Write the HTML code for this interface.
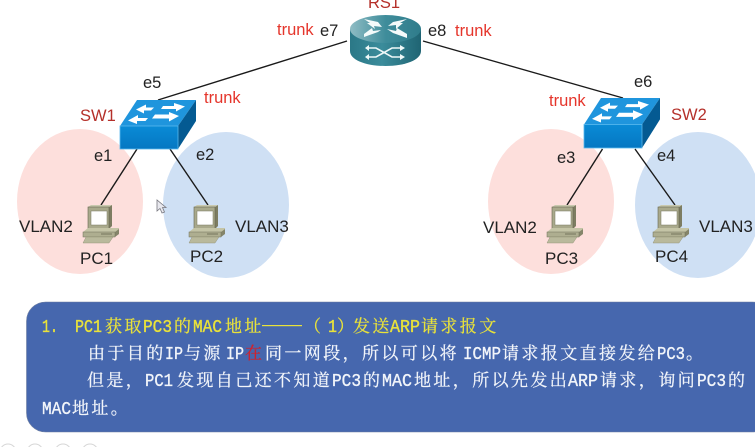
<!DOCTYPE html>
<html>
<head>
<meta charset="utf-8">
<style>
html,body{margin:0;padding:0;background:#fff;width:755px;height:447px;overflow:hidden}
svg{display:block;filter:blur(.35px)}
.l{font-family:"Liberation Sans",Arial,sans-serif;font-size:16.5px;fill:#222}
.r{fill:#e5352b}
.d{fill:#b5302a}
.c{font-family:"Noto Serif CJK SC","Noto Sans CJK SC",serif;font-size:17px;letter-spacing:2.4px;stroke-width:.25px}
.m{font-family:"Liberation Mono",monospace;font-size:18px;stroke-width:.35px}
.w{fill:#f2f5fa;stroke:#f2f5fa}
.y{fill:#e9e23a;stroke:#e9e23a}
</style>
</head>
<body>
<svg width="755" height="447" viewBox="0 0 755 447" xmlns="http://www.w3.org/2000/svg">
<defs>
<linearGradient id="rt" x1="0" y1="0" x2="1" y2="0"><stop offset="0" stop-color="#8fbcc4"/><stop offset=".5" stop-color="#3f8d9b"/><stop offset="1" stop-color="#2f7c8b"/></linearGradient>
<linearGradient id="rb" x1="0" y1="0" x2="1" y2="0"><stop offset="0" stop-color="#2b7887"/><stop offset=".45" stop-color="#3b8c9b"/><stop offset="1" stop-color="#1f6473"/></linearGradient>
<linearGradient id="sf" x1="0" y1="0" x2="0" y2="1"><stop offset="0" stop-color="#0a8bd6"/><stop offset="1" stop-color="#0577c2"/></linearGradient>
<g id="pc">
<polygon points="5,3 8,1 29,1 26,3" fill="#c9c9ae"/>
<polygon points="26,3 29,1 29,22 26,25" fill="#7d7d62"/>
<rect x="5" y="3" width="21" height="22" fill="#a9a98c" stroke="#66664e" stroke-width=".6"/>
<rect x="8" y="7" width="16" height="14" fill="#fff" stroke="#77775f" stroke-width=".5"/>
<polygon points="0,28 5,24 36,24 36,27 32,28" fill="#c4c4a6"/>
<polygon points="32,28 36,25 36,30 32,33" fill="#85856a"/>
<rect x="0" y="28" width="32" height="5" fill="#aeae90" stroke="#71715a" stroke-width=".5"/>
<line x1="18" y1="30" x2="29" y2="30" stroke="#666650" stroke-width=".8"/>
<polygon points="3,33 30,33 26,39 0,39" fill="#b9b99c" stroke="#8a8a70" stroke-width=".4"/>
</g>
<g id="sw">
<polygon points="0,26 17,0 76,0 58,26" fill="#1f95dd"/>
<polygon points="58,26 76,0 76,21 58,49" fill="#045a92"/>
<rect x="0" y="26" width="58" height="23" fill="url(#sf)" stroke="#59b8ee" stroke-width=".8"/>
<g fill="#fff">
<polygon points="16,9.500 26,4.500 26,7.500 34,7.500 31,10.500 24,10.500 24,13.500"/>
<polygon points="43,6 54,6 54,3 65,6.500 56,11.500 56,9 41,9"/>
<polygon points="8,20.500 18,15 18,18 28,18 25.500,21 17,21 17,24"/>
<polygon points="35,14.500 49,14.500 49,12 59,16 49,21.500 49,18.500 32,18.500"/>
</g>
</g>
</defs>

<ellipse cx="80" cy="201.500" rx="63" ry="72.500" fill="#fddfdc"/>
<ellipse cx="226" cy="205" rx="63" ry="73" fill="#cfe0f4"/>
<ellipse cx="551" cy="201.500" rx="63" ry="72.500" fill="#fddfdc"/>
<ellipse cx="698" cy="205" rx="63" ry="73" fill="#cfe0f4"/>

<g stroke="#1a1a1a" stroke-width="1.4" fill="none">
<line x1="347" y1="41" x2="158" y2="100"/>
<line x1="423" y1="41" x2="623" y2="98"/>
<line x1="137" y1="149" x2="101" y2="205"/>
<line x1="170" y1="149" x2="208" y2="205"/>
<line x1="602.500" y1="149" x2="567" y2="205"/>
<line x1="635" y1="149" x2="675" y2="205"/>
</g>

<!-- router -->
<path d="M350,29 V51 C350,60 366,66 385.500,66 C405,66 421,60 421,51 V29 Z" fill="url(#rb)"/>
<ellipse cx="385.500" cy="29" rx="35.500" ry="14" fill="url(#rt)"/>
<g fill="#f4fafa">
<polygon points="364,19 378,22 382,27 374,26 375,29 367,23 370,23"/>
<polygon points="407,19 393,22 388,26 396,25 396,29 403,23 400,23"/>
<polygon points="364,37 378,32 381,30 373,31 372,28 364,34"/>
<polygon points="407,38 393,33 387,29 396,31 397,28 407,34"/>
</g>
<g stroke="#eef8f8" stroke-width="1.600" fill="none">
<path d="M369,48 H376 L392,57 H400"/>
<path d="M369,57 H376 L392,48 H400"/>
</g>
<g fill="#eef8f8">
<polygon points="400,45 405,48 400,51"/>
<polygon points="400,54 405,57 400,60"/>
<polygon points="369,45 369,51 365,48"/>
<polygon points="369,54 369,60 365,57"/>
</g>

<use href="#sw" transform="translate(120,100)"/>
<use href="#sw" transform="translate(584,98) scale(1,1.02)"/>

<use href="#pc" transform="translate(83,204)"/>
<use href="#pc" transform="translate(189,204)"/>
<use href="#pc" transform="translate(547,204)"/>
<use href="#pc" transform="translate(653,204)"/>

<!-- cursor -->
<polygon points="157,200 157,211 160,208.500 162,213 164.500,212 162.500,207.500 166,207.500" fill="#e8e8ee" stroke="#77777f" stroke-width=".8"/>

<!-- labels -->
<text class="l d" x="368" y="8">RS1</text>
<text class="l r" x="277" y="35">trunk</text>
<text class="l" x="320" y="36">e7</text>
<text class="l" x="428" y="36">e8</text>
<text class="l r" x="455" y="36">trunk</text>
<text class="l" x="143" y="88">e5</text>
<text class="l r" x="204" y="103">trunk</text>
<text class="l d" x="80" y="121">SW1</text>
<text class="l" x="94" y="161">e1</text>
<text class="l" x="196" y="160">e2</text>
<text class="l" x="19" y="232" style="font-size:17px">VLAN2</text>
<text class="l" x="235" y="232" style="font-size:17px">VLAN3</text>
<text class="l" x="80" y="264" style="font-size:17px">PC1</text>
<text class="l" x="190" y="262" style="font-size:17px">PC2</text>
<text class="l" x="634" y="87">e6</text>
<text class="l r" x="549" y="106">trunk</text>
<text class="l d" x="671" y="120">SW2</text>
<text class="l" x="557" y="163">e3</text>
<text class="l" x="657" y="161">e4</text>
<text class="l" x="483" y="233" style="font-size:17px">VLAN2</text>
<text class="l" x="699" y="232" style="font-size:17px">VLAN3</text>
<text class="l" x="545" y="264" style="font-size:17px">PC3</text>
<text class="l" x="655" y="262" style="font-size:17px">PC4</text>

<!-- panel -->
<rect x="26.500" y="302" width="745" height="130" rx="19" ry="19" fill="#4667ae" stroke="#6f7f9f" stroke-width=".6"/>

<g>
<text class="m y" x="42" y="332" textLength="16" lengthAdjust="spacingAndGlyphs">1.</text>
<text class="m y" x="75" y="332" textLength="27" lengthAdjust="spacingAndGlyphs">PC1</text>
<text class="c y" x="105" y="332">获取</text>
<text class="m y" x="143" y="332" textLength="29" lengthAdjust="spacingAndGlyphs">PC3</text>
<text class="c y" x="174" y="332">的</text>
<text class="m y" x="193" y="332" textLength="29" lengthAdjust="spacingAndGlyphs">MAC</text>
<text class="c y" x="225" y="332">地址</text>
<rect x="262" y="325" width="40" height="1.200" fill="#e9e23a"/>
<text class="c y" x="304" y="332">（</text>
<text class="m y" x="328" y="332" textLength="9" lengthAdjust="spacingAndGlyphs">1</text>
<text class="c y" x="337" y="332">）</text>
<text class="c y" x="353" y="332">发送</text>
<text class="m y" x="390" y="332" textLength="30" lengthAdjust="spacingAndGlyphs">ARP</text>
<text class="c y" x="421" y="332">请求报文</text>
</g>

<g>
<text class="c w" x="88" y="359">由于目的</text>
<text class="m w" x="165" y="359" textLength="18" lengthAdjust="spacingAndGlyphs">IP</text>
<text class="c w" x="184" y="359">与源</text>
<text class="m w" x="226" y="359" textLength="18" lengthAdjust="spacingAndGlyphs">IP</text>
<text class="c" x="245" y="359" fill="#d0222c" stroke="#d0222c">在</text>
<text class="c w" x="265" y="359">同一网段，所以可以将</text>
<text class="m w" x="463" y="359" textLength="38" lengthAdjust="spacingAndGlyphs">ICMP</text>
<text class="c w" x="502" y="359">请求报文直接发给</text>
<text class="m w" x="657" y="359" textLength="28" lengthAdjust="spacingAndGlyphs">PC3</text>
<text class="c w" x="686" y="359">。</text>

<text class="c w" x="87" y="386">但是，</text>
<text class="m w" x="145" y="386" textLength="28" lengthAdjust="spacingAndGlyphs">PC1</text>
<text class="c w" x="177" y="386">发现自己还不知道</text>
<text class="m w" x="332" y="386" textLength="29" lengthAdjust="spacingAndGlyphs">PC3</text>
<text class="c w" x="363" y="386">的</text>
<text class="m w" x="382" y="386" textLength="30" lengthAdjust="spacingAndGlyphs">MAC</text>
<text class="c w" x="414" y="386">地址，所以先发出</text>
<text class="m w" x="568" y="386" textLength="30" lengthAdjust="spacingAndGlyphs">ARP</text>
<text class="c w" x="600" y="386">请求，询问</text>
<text class="m w" x="697" y="386" textLength="29" lengthAdjust="spacingAndGlyphs">PC3</text>
<text class="c w" x="728" y="386">的</text>

<text class="m w" x="42" y="414" textLength="29" lengthAdjust="spacingAndGlyphs">MAC</text>
<text class="c w" x="72" y="414">地址。</text>
</g>

<!-- bottom remnants -->
<g fill="none" stroke="#d6d6d6" stroke-width="1">
<circle cx="8" cy="452" r="8"/>
<circle cx="35" cy="452" r="8"/>
<circle cx="63" cy="452" r="8"/>
<circle cx="90" cy="452" r="8"/>
</g>
</svg>
</body>
</html>
